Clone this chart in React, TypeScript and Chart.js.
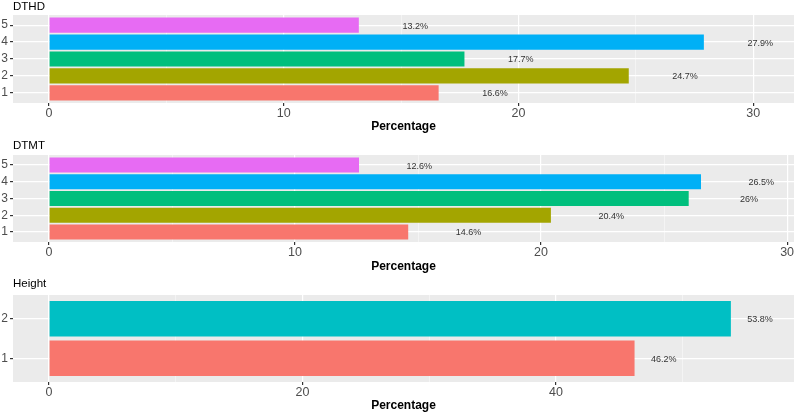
import React, { useEffect, useRef } from "react";
import { Chart, registerables } from "chart.js";

Chart.register(...registerables);

// ---- data ----
const dthdCategories = [1, 2, 3, 4, 5];
const dthdValues = [16.6, 24.7, 17.7, 27.9, 13.2];
const dthdLabels = ["16.6%", "24.7%", "17.7%", "27.9%", "13.2%"];

const dtmtCategories = [1, 2, 3, 4, 5];
const dtmtValues = [14.6, 20.4, 26, 26.5, 12.6];
const dtmtLabels = ["14.6%", "20.4%", "26%", "26.5%", "12.6%"];

const heightCategories = [1, 2];
const heightValues = [46.2, 53.8];
const heightLabels = ["46.2%", "53.8%"];

const dthdMajorTicks = [0, 10, 20, 30];
const dthdMinorTicks = [5, 15, 25];
const dtmtMajorTicks = [0, 10, 20, 30];
const dtmtMinorTicks = [5, 15, 25];
const heightMajorTicks = [0, 20, 40];
const heightMinorTicks = [10, 30, 50];

const hue5 = ["#F8766D", "#A3A500", "#00BF7D", "#00B0F6", "#E76BF3"];
const hue2 = ["#F8766D", "#00BFC4"];

const FONT = '"Liberation Sans", Arial, Helvetica, sans-serif';

type PanelCfg = {
  title: string;
  cats: number[];
  values: number[];
  labels: string[];
  major: number[];
  minor: number[];
  xMin: number;
  xMax: number;
  labelOffset: number;
  colors: string[];
  top: number;
  height: number;
  areaTop: number;
  areaBottom: number;
  axisTitleY: number;
  titleY: number;
};

const panels: PanelCfg[] = [
  {
    title: "DTHD",
    cats: dthdCategories,
    values: dthdValues,
    labels: dthdLabels,
    major: dthdMajorTicks,
    minor: dthdMinorTicks,
    xMin: -1.534,
    xMax: 31.74,
    labelOffset: 2.4,
    colors: hue5,
    top: 0,
    height: 140,
    areaTop: 15,
    areaBottom: 103,
    axisTitleY: 126.5,
    titleY: 6.5,
  },
  {
    title: "DTMT",
    cats: dtmtCategories,
    values: dtmtValues,
    labels: dtmtLabels,
    major: dtmtMajorTicks,
    minor: dtmtMinorTicks,
    xMin: -1.463,
    xMax: 30.28,
    labelOffset: 2.45,
    colors: hue5,
    top: 140,
    height: 135,
    areaTop: 15,
    areaBottom: 102,
    axisTitleY: 126.5,
    titleY: 6,
  },
  {
    title: "Height",
    cats: heightCategories,
    values: heightValues,
    labels: heightLabels,
    major: heightMajorTicks,
    minor: heightMinorTicks,
    xMin: -2.84,
    xMax: 58.78,
    labelOffset: 2.3,
    colors: hue2,
    top: 275,
    height: 138,
    areaTop: 20,
    areaBottom: 107,
    axisTitleY: 130.5,
    titleY: 9,
  },
];

function Panel({ cfg }: { cfg: PanelCfg }) {
  const ref = useRef<HTMLCanvasElement | null>(null);

  useEffect(() => {
    if (!ref.current) return;
    const titleLH = 12 * 1.2;
    const scaleBottom = cfg.axisTitleY + titleLH / 2;

    const bgPlugin = {
      id: "panelBg",
      beforeDraw(chart: any) {
        const { ctx, chartArea } = chart;
        ctx.save();
        ctx.fillStyle = "#EBEBEB";
        ctx.fillRect(
          chartArea.left,
          chartArea.top,
          chartArea.right - chartArea.left,
          chartArea.bottom - chartArea.top
        );
        ctx.restore();
      },
    };

    const textPlugin = {
      id: "panelText",
      afterDatasetsDraw(chart: any) {
        const { ctx, scales } = chart;
        ctx.save();
        ctx.font = `9px ${FONT}`;
        ctx.fillStyle = "#333333";
        ctx.textAlign = "center";
        ctx.textBaseline = "middle";
        cfg.cats.forEach((c, i) => {
          const x = scales.x.getPixelForValue(cfg.values[i] + cfg.labelOffset);
          const y = scales.y.getPixelForValue(c) + 1;
          ctx.fillText(cfg.labels[i], x, y);
        });
        ctx.restore();
      },
      afterDraw(chart: any) {
        const { ctx, chartArea } = chart;
        ctx.save();
        ctx.font = `11.5px ${FONT}`;
        ctx.fillStyle = "#000000";
        ctx.textAlign = "left";
        ctx.textBaseline = "middle";
        ctx.fillText(cfg.title, chartArea.left, cfg.titleY);
        ctx.restore();
      },
    };

    const allTicks = [...cfg.major, ...cfg.minor].sort((a, b) => a - b);
    const isMajor = (v: number) => cfg.major.includes(v);

    const chart = new Chart(ref.current, {
      type: "bar",
      data: {
        datasets: [
          {
            data: cfg.cats.map((c, i) => ({ x: cfg.values[i], y: c })),
            backgroundColor: cfg.colors,
            borderWidth: 0,
            barPercentage: 0.9,
            categoryPercentage: 1,
          } as any,
        ],
      },
      options: {
        indexAxis: "y",
        animation: false,
        responsive: false,
        maintainAspectRatio: false,
        layout: {
          padding: {
            top: cfg.areaTop,
            bottom: cfg.height - scaleBottom,
            left: 0,
            right: 5,
          },
        },
        plugins: {
          legend: { display: false },
          tooltip: { enabled: false },
          title: { display: false },
        },
        scales: {
          x: {
            type: "linear",
            position: "bottom",
            min: cfg.xMin,
            max: cfg.xMax,
            offset: false,
            afterBuildTicks: (s: any) => {
              s.ticks = allTicks.map((v) => ({ value: v }));
            },
            afterFit: (s: any) => {
              s.height = scaleBottom - cfg.areaBottom;
            },
            ticks: {
              padding: 0,
              autoSkip: false,
              maxRotation: 0,
              color: "#4D4D4D",
              font: { size: 12.5, family: FONT },
              callback: (v: any) => (isMajor(Number(v)) ? String(v) : ""),
            },
            grid: {
              offset: false,
              color: (ctx: any) =>
                ctx.tick && isMajor(ctx.tick.value)
                  ? "#FFFFFF"
                  : "rgba(255,255,255,0.75)",
              lineWidth: (ctx: any) =>
                ctx.tick && isMajor(ctx.tick.value) ? 1.2 : 0.6,
              tickColor: (ctx: any) =>
                ctx.tick && isMajor(ctx.tick.value)
                  ? "#333333"
                  : "rgba(0,0,0,0)",
              tickLength: 3,
            },
            border: { display: false },
            title: {
              display: true,
              text: "Percentage",
              color: "#000000",
              font: { size: 12, weight: "bold", family: FONT },
              padding: 0,
            },
          },
          y: {
            type: "linear",
            min: 0.4,
            max: cfg.cats.length + 0.6,
            offset: false,
            afterBuildTicks: (s: any) => {
              s.ticks = cfg.cats.map((v) => ({ value: v }));
            },
            afterFit: (s: any) => {
              s.width = 13;
            },
            ticks: {
              padding: 2,
              autoSkip: false,
              color: "#4D4D4D",
              font: { size: 12, family: FONT },
              callback: (v: any) => String(v),
            },
            grid: {
              offset: false,
              color: "#FFFFFF",
              lineWidth: 1.2,
              tickColor: "#333333",
              tickLength: 3,
            },
            border: { display: false },
          },
        },
      } as any,
      plugins: [bgPlugin, textPlugin],
    });

    return () => {
      chart.destroy();
    };
  }, [cfg]);

  return (
    <canvas
      ref={ref}
      width={799}
      height={cfg.height}
      style={{
        position: "absolute",
        left: 0,
        top: cfg.top,
        width: 799,
        height: cfg.height,
        display: "block",
      }}
    />
  );
}

export default function App() {
  return (
    <div
      style={{
        position: "fixed",
        left: 0,
        top: 0,
        width: 799,
        height: 413,
        background: "#FFFFFF",
        overflow: "hidden",
      }}
    >
      {panels.map((p) => (
        <Panel key={p.title} cfg={p} />
      ))}
    </div>
  );
}
